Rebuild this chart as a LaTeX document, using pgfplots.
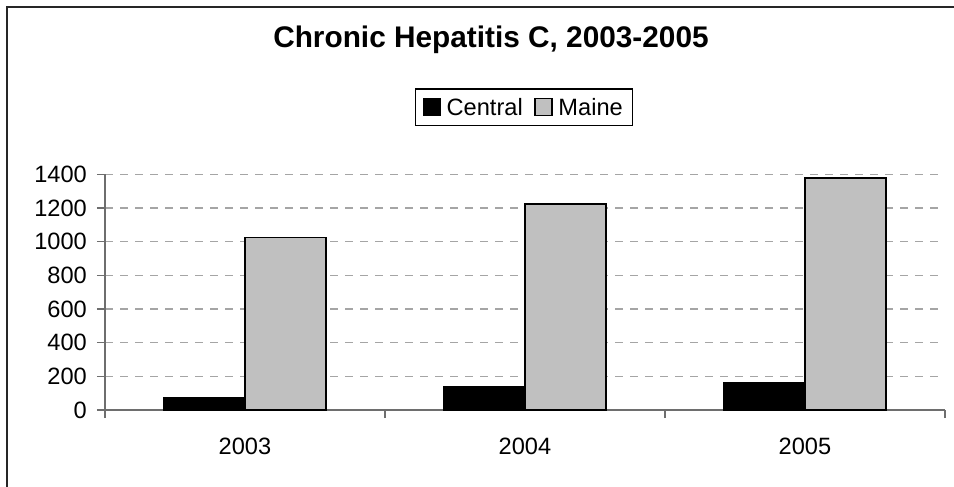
\documentclass[border=0pt]{standalone}
\usepackage{fontspec}
\setmainfont{Liberation Sans}
\usepackage{pgfplots}
\pgfplotsset{compat=1.18}
\definecolor{maine}{RGB}{192,192,192}
\definecolor{gridc}{RGB}{165,165,165}
\definecolor{axc}{RGB}{110,110,110}
\begin{document}
\begin{tikzpicture}
\path[use as bounding box] (0,0) rectangle (954bp,-487bp);
\draw[line width=1.6bp, black!85] (7bp,-487bp) -- (7bp,-7bp) -- (954bp,-7bp);
\begin{axis}[
  at={(105bp,-410bp)}, anchor=south west,
  scale only axis, width=840bp, height=235.7bp,
  ybar=0pt, bar width=0.29,
  xmin=-0.5, xmax=2.5, ymin=0, ymax=1400,
  ytick={0,200,...,1400},
  xtick={-0.5,0.5,1.5,2.5}, xticklabels={},
  extra x ticks={0,1,2}, extra x tick labels={2003,2004,2005},
  extra x tick style={major tick length=0pt, grid=none,
     xticklabel style={anchor=north, inner sep=0pt, yshift=-28bp}},
  axis x line*=bottom, axis y line*=left,
  axis line style={axc, line width=1.1bp},
  tick align=outside, major tick length=8bp,
  tick style={axc, line width=1.1bp},
  ymajorgrids, grid style={gridc, line width=1.2bp, dash pattern=on 8bp off 7bp},
  yticklabel style={anchor=east, inner sep=0pt, xshift=-10bp},
  tick label style={font=\fontsize{23.7}{28}\selectfont},
  /pgf/number format/assume math mode=true,
  /pgf/number format/1000 sep={},
  title={\bfseries Chronic Hepatitis C, 2003-2005},
  title style={at={(0.4595,1.5146)}, anchor=base, inner sep=0pt,
     font=\fontsize{29.9}{34}\selectfont},
  every axis plot post/.append style={
     legend image code/.code={\draw[##1] (0bp,-8.5bp) rectangle (17bp,8.5bp);}},
  legend columns=2,
  legend style={at={(0.4988,1.2855)}, anchor=center, draw=black, line width=1.1bp,
     font=\fontsize{23.7}{28}\selectfont, inner xsep=7bp, inner ysep=7bp,
     nodes={inner sep=2.5bp, text depth=0pt},
     /tikz/every odd column/.append style={column sep=3bp},
     /tikz/every even column/.append style={column sep=9bp}},
]
\addplot[fill=black, draw=black, line width=1.5bp] coordinates {(0,73) (1,138) (2,164)};
\addlegendentry{Central}
\addplot[fill=maine, draw=black, line width=1.7bp] coordinates {(0,1025) (1,1224) (2,1380)};
\addlegendentry{Maine}
\end{axis}
\end{tikzpicture}
\end{document}
